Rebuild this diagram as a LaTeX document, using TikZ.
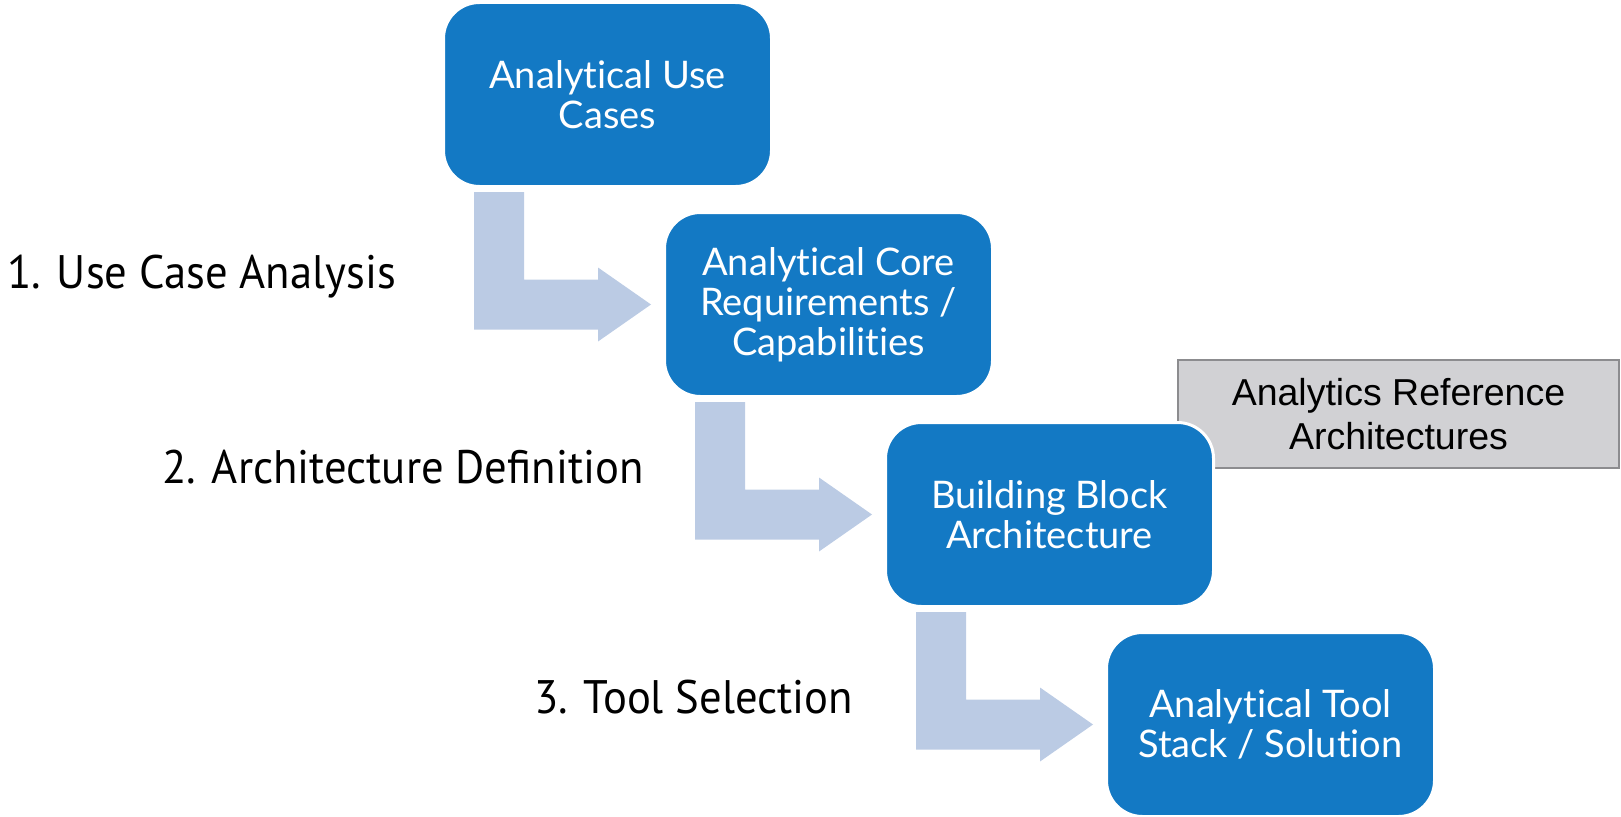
\documentclass[tikz,border=0pt]{standalone}
\usepackage{fontspec}
\setmainfont{Lato}[Ligatures={NoCommon,NoDiscretionary,NoRare}]
\newfontfamily\labelfont{PT Sans}[FakeStretch=0.95]
\newfontfamily\reffont{Liberation Sans}
\usetikzlibrary{calc}

\definecolor{stageblue}{RGB}{19,121,196}
\definecolor{flowblue}{RGB}{187,203,228}
\definecolor{refgray}{RGB}{209,209,212}
\definecolor{refborder}{RGB}{140,140,143}

\begin{document}
\begin{tikzpicture}[
    x=1pt, y=-1pt,
    stage/.style={draw=white, line width=3pt, fill=stageblue,
                  rounded corners=36pt, minimum width=328pt,
                  minimum height=184pt, align=center, text=white,
                  font=\fontsize{38}{40}\selectfont},
    refbox/.style={draw=refborder, line width=2pt, fill=refgray,
                   minimum width=441pt, minimum height=108pt,
                   align=center, font=\reffont\fontsize{37.5}{44}\selectfont},
    phase/.style={anchor=base west, inner sep=0pt,
                  font=\labelfont\fontsize{47}{50}\selectfont},
    flow/.style={fill=flowblue}
  ]
  \useasboundingbox (0,0) rectangle (1621,816);

  % stages, one step down and right each time
  \node[stage] (uc) at (607.5,94.5) {Analytical Use\\Cases};
  \node[stage] (req) at ($(uc)+(221,210)$) {Analytical Core\\Requirements /\\Capabilities};
  \node[refbox] (ref) at (1398.5,414) {Analytics Reference\\Architectures};
  \node[stage] (bba) at ($(req)+(221,210)$) {Building Block\\Architecture};
  \node[stage] (stack) at ($(bba)+(221,210)$) {Analytical Tool\\Stack / Solution};

  % bent arrows between the stages
  \foreach \from/\to in {uc/req, req/bba, bba/stack} {
    \fill[flow] ($(\from.south west)+(32,4)$) -- ++(50,0)
      |- ($(\to.west)+(-65,-25)$) -- ++(0,-12)
      -- ($(\to.west)+(-12,0)$) -- ($(\to.west)+(-65,37)$) -- ++(0,-12)
      -| ($(\from.south west)+(32,4)$) -- cycle;
  }

  % phase labels
  \node[phase] (p1) at (7,288) {1. Use Case Analysis};
  \node[phase] (p2) at (162,483) {2. Architecture Definition};
  \node[phase] (p3) at (534,713) {3. Tool Selection};
\end{tikzpicture}
\end{document}
